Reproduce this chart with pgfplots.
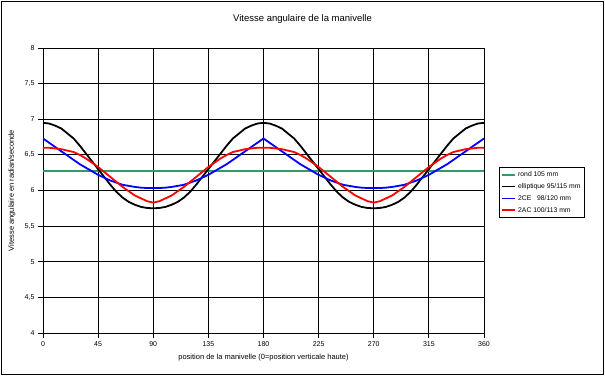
\documentclass[border=0pt]{standalone}
\usepackage{pgfplots}
\usepackage{pgfplotstable}
\pgfplotsset{compat=1.18}
\usepackage{fontspec}
\setmainfont{Liberation Sans}
\definecolor{rondgreen}{RGB}{51,153,102}
\pgfplotstableread{
theta rond ellip ce ac
0 6.28 6.95 6.73 6.60
5 6.28 6.94 6.67 6.60
10 6.28 6.91 6.61 6.59
15 6.28 6.87 6.55 6.58
20 6.28 6.80 6.49 6.56
25 6.28 6.73 6.43 6.54
30 6.28 6.63 6.37 6.50
35 6.28 6.52 6.32 6.45
40 6.28 6.41 6.27 6.39
45 6.28 6.30 6.22 6.33
50 6.28 6.19 6.18 6.26
55 6.28 6.08 6.14 6.19
60 6.28 5.98 6.11 6.12
65 6.28 5.90 6.08 6.05
70 6.28 5.84 6.065 5.99
75 6.28 5.80 6.05 5.93
80 6.28 5.77 6.04 5.89
85 6.28 5.755 6.035 5.85
90 6.28 5.75 6.035 5.83
95 6.28 5.755 6.035 5.85
100 6.28 5.77 6.04 5.89
105 6.28 5.80 6.05 5.93
110 6.28 5.84 6.065 5.99
115 6.28 5.90 6.08 6.05
120 6.28 5.98 6.11 6.12
125 6.28 6.08 6.14 6.19
130 6.28 6.19 6.18 6.26
135 6.28 6.30 6.22 6.33
140 6.28 6.41 6.27 6.39
145 6.28 6.52 6.32 6.45
150 6.28 6.63 6.37 6.50
155 6.28 6.73 6.43 6.54
160 6.28 6.80 6.49 6.56
165 6.28 6.87 6.55 6.58
170 6.28 6.91 6.61 6.59
175 6.28 6.94 6.67 6.60
180 6.28 6.95 6.73 6.60
185 6.28 6.94 6.67 6.60
190 6.28 6.91 6.61 6.59
195 6.28 6.87 6.55 6.58
200 6.28 6.80 6.49 6.56
205 6.28 6.73 6.43 6.54
210 6.28 6.63 6.37 6.50
215 6.28 6.52 6.32 6.45
220 6.28 6.41 6.27 6.39
225 6.28 6.30 6.22 6.33
230 6.28 6.19 6.18 6.26
235 6.28 6.08 6.14 6.19
240 6.28 5.98 6.11 6.12
245 6.28 5.90 6.08 6.05
250 6.28 5.84 6.065 5.99
255 6.28 5.80 6.05 5.93
260 6.28 5.77 6.04 5.89
265 6.28 5.755 6.035 5.85
270 6.28 5.75 6.035 5.83
275 6.28 5.755 6.035 5.85
280 6.28 5.77 6.04 5.89
285 6.28 5.80 6.05 5.93
290 6.28 5.84 6.065 5.99
295 6.28 5.90 6.08 6.05
300 6.28 5.98 6.11 6.12
305 6.28 6.08 6.14 6.19
310 6.28 6.19 6.18 6.26
315 6.28 6.30 6.22 6.33
320 6.28 6.41 6.27 6.39
325 6.28 6.52 6.32 6.45
330 6.28 6.63 6.37 6.50
335 6.28 6.73 6.43 6.54
340 6.28 6.80 6.49 6.56
345 6.28 6.87 6.55 6.58
350 6.28 6.91 6.61 6.59
355 6.28 6.94 6.67 6.60
360 6.28 6.95 6.73 6.60
}\datatable
\begin{document}
\begin{tikzpicture}[x=1pt,y=1pt]
\path (-43,-43) rectangle (562,333);
\draw[line width=0.9pt] (-41.5,-41.5) rectangle (560.5,331.5);
\node at (259.5,314) {\fontsize{9.5}{11}\selectfont Vitesse angulaire de la manivelle};
\begin{axis}[
  at={(0pt,0pt)}, anchor=south west,
  scale only axis, width=441pt, height=285pt,
  xmin=0, xmax=360, ymin=4, ymax=8,
  xtick={0,45,...,360}, ytick={4,4.5,...,8},
  grid=major, major grid style={black, line width=0.8pt},
  axis line style={black, line width=0.8pt},
  tick style={black, line width=0.8pt},
  tick align=outside, tick pos=left, major tick length=5pt,
  /pgf/number format/assume math mode=true,
  /pgf/number format/use comma,
  ticklabel style={font=\fontsize{7}{8}\selectfont},
  xlabel={position de la manivelle (0=position verticale haute)},
  ylabel={Vitesse angulaire en radian/seconde},
  label style={font=\fontsize{7.5}{9}\selectfont},
  xlabel style={at={(axis description cs:0.5,-0.0877)}, anchor=center},
  ylabel style={at={(axis description cs:-0.0703,0.5)}, anchor=center},
  legend style={at={(1.034,0.5825)}, anchor=north west, draw=black, line width=0.8pt,
    fill=white, font=\fontsize{6.8}{8}\selectfont, inner sep=2pt, row sep=1.5pt},
  legend cell align=left,
  legend image code/.code={\draw[#1, line width=1.8pt] (0pt,0pt) -- (13pt,0pt);},
]
\addplot[rondgreen, line width=1.9pt] table[x=theta, y=rond] {\datatable};
\addlegendentry{rond 105 mm}
\addplot[black, line width=1.8pt] table[x=theta, y=ellip] {\datatable};
\addlegendentry{elliptique 95/115 mm}
\addplot[blue, line width=1.8pt] table[x=theta, y=ce] {\datatable};
\addlegendentry{2CE\ \ \ 98/120 mm}
\addplot[red, line width=1.8pt] table[x=theta, y=ac] {\datatable};
\addlegendentry{2AC 100/113 mm}
\end{axis}
\end{tikzpicture}
\end{document}
